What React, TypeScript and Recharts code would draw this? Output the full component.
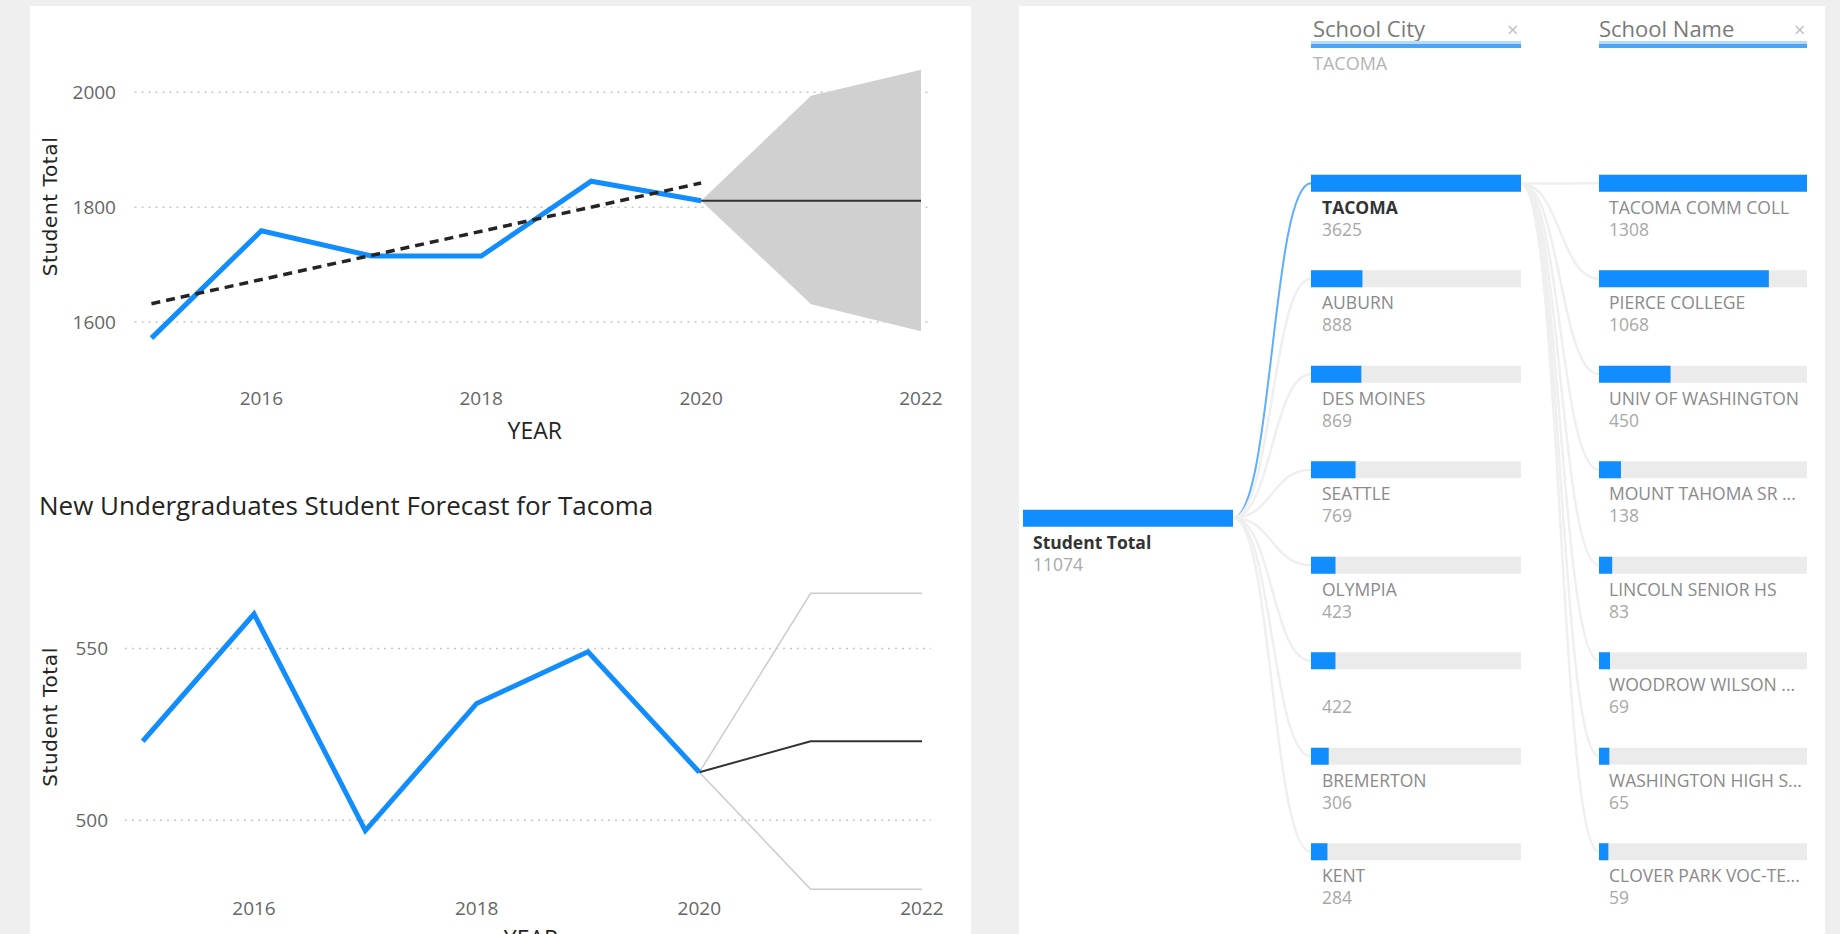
import React from 'react';
import { ComposedChart, Line, Area, XAxis, YAxis, CartesianGrid, BarChart, Bar } from 'recharts';

// ---------- data ----------
const YEARS = [2015, 2016, 2017, 2018, 2019, 2020, 2021, 2022];
const X_TICKS = [2016, 2018, 2020, 2022];

const CITY_ACTUAL = [1572, 1759, 1715, 1715, 1845, 1811, null, null];
const CITY_TREND = [1632, null, null, null, null, 1842, null, null];
const CITY_FORECAST = [null, null, null, null, null, 1811, 1811, 1811];
const CITY_LOWER = [null, null, null, null, null, 1811, 1631, 1584];
const CITY_UPPER = [null, null, null, null, null, 1811, 1994, 2039];
const CITY_Y_TICKS = [1600, 1800, 2000];

const TAC_TITLE = 'New Undergraduates Student Forecast for Tacoma';
const TAC_ACTUAL = [523, 560, 497, 534, 549, 514, null, null];
const TAC_FORECAST = [null, null, null, null, null, 514, 523, 523];
const TAC_UPPER = [null, null, null, null, null, 514, 566, 566];
const TAC_LOWER = [null, null, null, null, null, 514, 480, 480];
const TAC_Y_TICKS = [500, 550];

const ROOT_LABEL = 'Student Total';
const ROOT_VALUE = 11074;
const CITY_HEADER = 'School City';
const CITY_FILTER = 'TACOMA';
const CITY_NAMES = ['TACOMA', 'AUBURN', 'DES MOINES', 'SEATTLE', 'OLYMPIA', '', 'BREMERTON', 'KENT'];
const CITY_VALUES = [3625, 888, 869, 769, 423, 422, 306, 284];
const SCHOOL_HEADER = 'School Name';
const SCHOOL_NAMES = [
  'TACOMA COMM COLL',
  'PIERCE COLLEGE',
  'UNIV OF WASHINGTON',
  'MOUNT TAHOMA SR ...',
  'LINCOLN SENIOR HS',
  'WOODROW WILSON ...',
  'WASHINGTON HIGH S...',
  'CLOVER PARK VOC-TE...',
];
const SCHOOL_VALUES = [1308, 1068, 450, 138, 83, 69, 65, 59];

// ---------- derived tables ----------
const topData = YEARS.map((year, i) => ({
  year,
  actual: CITY_ACTUAL[i],
  trend: CITY_TREND[i],
  forecast: CITY_FORECAST[i],
  band: CITY_LOWER[i] == null ? null : [CITY_LOWER[i], CITY_UPPER[i]],
}));
const bottomData = YEARS.map((year, i) => ({
  year,
  actual: TAC_ACTUAL[i],
  forecast: TAC_FORECAST[i],
  upper: TAC_UPPER[i],
  lower: TAC_LOWER[i],
}));
const rootData = [{ name: ROOT_LABEL, value: ROOT_VALUE }];
const cityData = CITY_NAMES.map((name, i) => ({ name, key: 'c' + i, value: CITY_VALUES[i] }));
const schoolData = SCHOOL_NAMES.map((name, i) => ({ name, key: 's' + i, value: SCHOOL_VALUES[i] }));

// ---------- styles ----------
const BLUE = '#118DFF';
const FONT = "'Open Sans', 'Noto Sans', sans-serif";
const TICK_COLOR = '#666666';

const makeXTick = (off: number) => (p: any) => (
  <text x={p.x} y={p.y + off} textAnchor="middle" dominantBaseline="central" fontFamily={FONT} fontSize={19} fill={TICK_COLOR}>
    {p.payload.value}
  </text>
);
const YTick = (p: any) => (
  <text x={p.x} y={p.y} textAnchor="end" dominantBaseline="central" fontFamily={FONT} fontSize={19} fill={TICK_COLOR}>
    {p.payload.value}
  </text>
);
const makeYTitle = (cx: number, dy: number) => (p: any) => {
  const vb = p.viewBox || {};
  const cy = vb.y + vb.height / 2 + dy;
  return (
    <text x={cx} y={cy} transform={`rotate(-90 ${cx} ${cy})`} textAnchor="middle" dominantBaseline="central"
      fontFamily="'DejaVu Sans', sans-serif" fontSize={20} letterSpacing={0.6} fill="#252423">
      Student Total
    </text>
  );
};
const makeXTitle = (dx: number, dy: number) => (p: any) => {
  const vb = p.viewBox || {};
  return (
    <text x={vb.x + vb.width / 2 + dx} y={vb.y + dy} textAnchor="middle" dominantBaseline="central"
      fontFamily={FONT} fontSize={23} fill="#252423">
      YEAR
    </text>
  );
};

// ---------- decomposition tree geometry ----------
const TREE_TOP = 100;
const TREE_H = 820;
const TREE_MT = 35.75;
const TREE_MB = 20.25;
const ROWS = 8;
const BAND = (TREE_H - TREE_MT - TREE_MB) / ROWS;
const BAR_H = 17;
const ROOT_Y = TREE_MT + (TREE_H - TREE_MT - TREE_MB) / 2; // center of the root bar in chart coords
const FIRST_ROW_Y = TREE_MT + BAND / 2;

const labelTexts = (x: number, y: number, name: string, value: number, bold: boolean, dark: boolean) => (
  <>
    {name ? (
      <text x={x} y={y + 32} dominantBaseline="central" fontFamily={FONT} fontSize={17.5}
        fontWeight={bold ? 700 : 400} fill={dark ? '#333333' : '#8a8a8a'}>
        {name}
      </text>
    ) : null}
    <text x={x} y={y + 54} dominantBaseline="central" fontFamily={FONT} fontSize={17.5} fill="#a8a8a8">
      {value}
    </text>
  </>
);

const RootShape = (p: any) => (
  <g>
    <rect x={p.x} y={p.y} width={p.width} height={p.height} fill={BLUE} />
    {labelTexts(p.x + 10, p.y, p.payload.name, p.payload.value, true, true)}
  </g>
);

const CityShape = (p: any) => {
  const cy = p.y + p.height / 2;
  const mx = p.x / 2;
  const sel = p.index === 0;
  return (
    <g>
      <path d={`M0,${ROOT_Y} C${mx},${ROOT_Y} ${mx},${cy} ${p.x},${cy}`} fill="none"
        stroke={sel ? '#5eaeff' : '#efefef'} strokeWidth={sel ? 2 : 2.5} />
      <rect x={p.x} y={p.y} width={p.width} height={p.height} fill={BLUE} />
      {labelTexts(p.x + 11, p.y, p.payload.name, p.payload.value, sel, sel)}
    </g>
  );
};

const SchoolShape = (p: any) => {
  const cy = p.y + p.height / 2;
  const mx = p.x / 2;
  return (
    <g>
      <path d={`M0,${FIRST_ROW_Y} C${mx},${FIRST_ROW_Y} ${mx},${cy} ${p.x},${cy}`} fill="none" stroke="#efefef" strokeWidth={2.5} />
      <rect x={p.x} y={p.y} width={p.width} height={p.height} fill={BLUE} />
      {labelTexts(p.x + 10, p.y, p.payload.name, p.payload.value, false, false)}
    </g>
  );
};

const abs = (left: number, top: number): React.CSSProperties => ({ position: 'absolute', left, top });

export default function App() {
  return (
    <div style={{ position: 'fixed', left: 0, top: 0, width: 1840, height: 934, background: '#efefef', overflow: 'hidden' }}>
      {/* panels */}
      <div style={{ ...abs(30, 6), width: 941, height: 928, background: '#ffffff' }} />
      <div style={{ ...abs(1019, 6), width: 806, height: 928, background: '#ffffff' }} />

      {/* top forecast chart */}
      <div style={abs(30, 6)}>
        <ComposedChart width={941} height={440} data={topData} margin={{ top: 54, right: 40, left: 24.5, bottom: 26 }}>
          <CartesianGrid vertical={false} horizontalValues={CITY_Y_TICKS} stroke="#c8c6c4" strokeDasharray="2 5" strokeWidth={1.5} />
          <XAxis dataKey="year" type="number" domain={[2014.846, 2022.091]} allowDataOverflow ticks={X_TICKS}
            axisLine={false} tickLine={false} tickSize={0} tickMargin={0} height={60} tick={makeXTick(38)}
            label={{ content: makeXTitle(2, 70) }} />
          <YAxis type="number" domain={[1534, 2056]} allowDataOverflow ticks={CITY_Y_TICKS} axisLine={false}
            tickLine={false} tickSize={0} tickMargin={18.5} width={80} tick={YTick}
            label={{ content: makeYTitle(20, -3.5) }} />
          <Area dataKey="band" type="linear" fill="#d0d0d0" fillOpacity={1} stroke="none" isAnimationActive={false} />
          <Line dataKey="forecast" type="linear" stroke="#333333" strokeWidth={2} dot={false} activeDot={false} isAnimationActive={false} />
          <Line dataKey="actual" type="linear" stroke={BLUE} strokeWidth={5} dot={false} activeDot={false} isAnimationActive={false} />
          <Line dataKey="trend" type="linear" stroke="#252423" strokeWidth={3.5} strokeDasharray="9 6" connectNulls dot={false} activeDot={false} isAnimationActive={false} />
        </ComposedChart>
      </div>

      {/* bottom title */}
      <svg style={abs(30, 452)} width={941} height={100}>
        <text x={9} y={53} dominantBaseline="central" fontFamily={FONT} fontSize={26} fill="#252423">{TAC_TITLE}</text>
      </svg>

      {/* bottom forecast chart */}
      <div style={abs(30, 452)}>
        <ComposedChart width={941} height={520} data={bottomData} margin={{ top: 108, right: 40, left: 20, bottom: 38 }}>
          <CartesianGrid vertical={false} horizontalValues={TAC_Y_TICKS} stroke="#c8c6c4" strokeDasharray="2 5" strokeWidth={1.5} />
          <XAxis dataKey="year" type="number" domain={[2014.841, 2022.081]} allowDataOverflow ticks={X_TICKS}
            axisLine={false} tickLine={false} tickSize={0} tickMargin={0} height={39} tick={makeXTick(13)}
            label={{ content: makeXTitle(3, 43) }} />
          <YAxis type="number" domain={[478.3, 575.7]} allowDataOverflow ticks={TAC_Y_TICKS} axisLine={false}
            tickLine={false} tickSize={0} tickMargin={17} width={75} tick={YTick}
            label={{ content: makeYTitle(20, -10.5) }} />
          <Line dataKey="upper" type="linear" stroke="#cccccc" strokeWidth={1.5} dot={false} activeDot={false} isAnimationActive={false} />
          <Line dataKey="lower" type="linear" stroke="#cccccc" strokeWidth={1.5} dot={false} activeDot={false} isAnimationActive={false} />
          <Line dataKey="forecast" type="linear" stroke="#333333" strokeWidth={2} dot={false} activeDot={false} isAnimationActive={false} />
          <Line dataKey="actual" type="linear" stroke={BLUE} strokeWidth={5} dot={false} activeDot={false} isAnimationActive={false} />
        </ComposedChart>
      </div>

      {/* decomposition tree headers */}
      <svg style={abs(1019, 0)} width={806} height={100}>
        <text x={294} y={37} fontFamily={FONT} fontSize={22} fill="#7a7a7a">{CITY_HEADER}</text>
        <text x={488} y={37} fontFamily={FONT} fontSize={20} fill="#c0c0c0">×</text>
        <rect x={292} y={41} width={210} height={3} fill="#b5dafc" />
        <rect x={292} y={44} width={210} height={4} fill="#4aa5f8" />
        <text x={294} y={70} fontFamily={FONT} fontSize={18} fill="#b3b3b3">{CITY_FILTER}</text>
        <text x={580} y={37} fontFamily={FONT} fontSize={22} fill="#7a7a7a">{SCHOOL_HEADER}</text>
        <text x={775} y={37} fontFamily={FONT} fontSize={20} fill="#c0c0c0">×</text>
        <rect x={580} y={41} width={208} height={3} fill="#b5dafc" />
        <rect x={580} y={44} width={208} height={4} fill="#4aa5f8" />
      </svg>

      {/* root bar */}
      <div style={abs(1019, TREE_TOP)}>
        <BarChart layout="vertical" width={230} height={TREE_H} data={rootData}
          margin={{ top: TREE_MT, right: 16, left: 4, bottom: TREE_MB }}>
          <XAxis type="number" hide domain={[0, 'dataMax']} />
          <YAxis type="category" dataKey="name" hide />
          <Bar dataKey="value" barSize={BAR_H} shape={RootShape} isAnimationActive={false} />
        </BarChart>
      </div>

      {/* city column */}
      <div style={abs(1233, TREE_TOP)}>
        <BarChart layout="vertical" width={300} height={TREE_H} data={cityData}
          margin={{ top: TREE_MT, right: 12, left: 78, bottom: TREE_MB }}>
          <XAxis type="number" hide domain={[0, 'dataMax']} />
          <YAxis type="category" dataKey="key" hide />
          <Bar dataKey="value" barSize={BAR_H} background={{ fill: '#ebebeb' }} shape={CityShape} isAnimationActive={false} />
        </BarChart>
      </div>

      {/* school column */}
      <div style={abs(1521, TREE_TOP)}>
        <BarChart layout="vertical" width={300} height={TREE_H} data={schoolData}
          margin={{ top: TREE_MT, right: 14, left: 78, bottom: TREE_MB }}>
          <XAxis type="number" hide domain={[0, 'dataMax']} />
          <YAxis type="category" dataKey="key" hide />
          <Bar dataKey="value" barSize={BAR_H} background={{ fill: '#ebebeb' }} shape={SchoolShape} isAnimationActive={false} />
        </BarChart>
      </div>
    </div>
  );
}
